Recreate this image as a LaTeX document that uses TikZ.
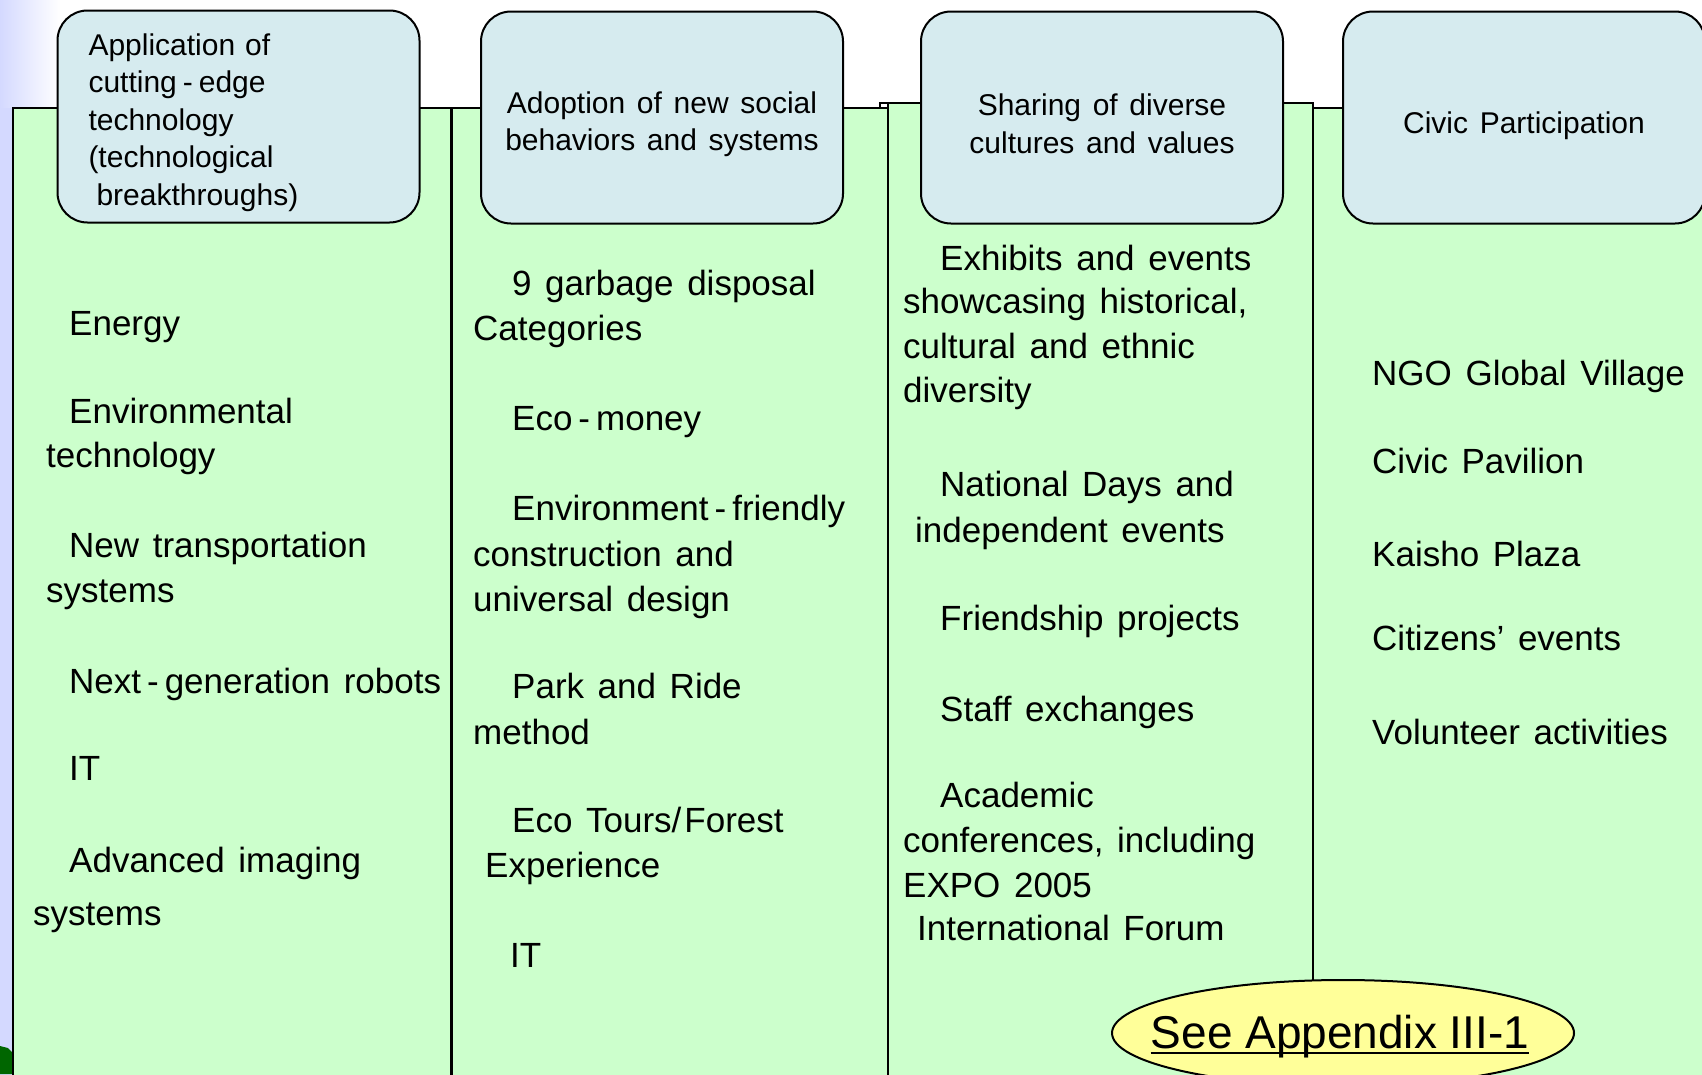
\documentclass[tikz,border=0pt]{standalone}
\usepackage{fontspec}
\setmainfont[WordSpace=1.4]{Liberation Sans}
\newfontfamily\notefont{Liberation Sans}
\usetikzlibrary{shapes.geometric, positioning}
\definecolor{PanelGreen}{HTML}{CCFFCC}
\definecolor{HeadBlue}{HTML}{D6EBEF}
\definecolor{NoteYellow}{HTML}{FFFF99}
\definecolor{SlideLilac}{HTML}{D4D9FF}
\newcommand{\hy}{\kern6pt-\kern6pt}

\tikzset{
  panel/.style={draw=black, fill=PanelGreen, line width=2pt},
  head/.style={draw=black, fill=HeadBlue, line width=2pt, rounded corners=30pt,
    minimum width=362pt, minimum height=212pt, inner sep=0pt},
  headtext/.style={font=\fontsize{30}{37.5}\selectfont, inner sep=0pt},
  item/.style={font=\fontsize{35}{44}\selectfont, anchor=base west, inner sep=0pt},
  oval/.style={draw=black, fill=NoteYellow, ellipse, line width=2pt,
    minimum width=462pt, minimum height=106pt, inner sep=0pt}
}

\begin{document}
\begin{tikzpicture}[x=1pt, y=-1pt]
    \useasboundingbox (0,0) rectangle (1702,1074);
    \clip (0,0) rectangle (1702,1074);

    % Slide background
    \fill[white] (0,0) rectangle (1702,1074);
    \shade[left color=SlideLilac, right color=white] (0,0) rectangle (60,1074);
    \fill[SlideLilac] (0,108) rectangle (14,1074);
    \fill[green!40!black] (0,1046) -- (8,1048) -- (14,1054) -- (14,1074) -- (0,1074) -- cycle;

    % Columns
    \draw[panel] (13,108) rectangle (451,1090);
    \draw[panel] (452,108) rectangle (888,1090);
    \draw[panel] (888,103) rectangle (1313,1090);
    \draw[line width=2pt] (880,108) |- (888,103);
    \draw[panel] (1313,108) rectangle (1730,1090);

    % Column heads
    \node[head] (h1) at (238.5,116.5) {};
    \node[head] (h2) at (662,117.5) {};
    \node[head] (h3) at (1102,117.5) {};
    \node[head] (h4) at (1524,117.5) {};
    \node[headtext, text width=300pt, align=left] (t1) at (238.5,122.5)
        {Application of\\cutting\hy edge\\technology\\(technological\\\hspace*{8pt}breakthroughs)};
    \node[headtext, align=center] (t2) at (662,124) {Adoption of new social\\behaviors and systems};
    \node[headtext, align=center] (t3) at (1102,124) {Sharing of diverse\\cultures and values};
    \node[headtext] (t4) at (1524,125.4) {Civic Participation};

    % Technology
    \node[item] (c1a) at (69,335) {Energy};
    \node[item] (c1b) at (69,423) {Environmental};
    \node[item] (c1c) at (46,467) {technology};
    \node[item] (c1d) at (69,557) {New transportation};
    \node[item] (c1e) at (46,602) {systems};
    \node[item] (c1f) at (69,693) {Next\hy generation robots};
    \node[item] (c1g) at (69,780) {IT};
    \node[item] (c1h) at (69,872) {Advanced imaging};
    \node[item] (c1i) at (33,925) {systems};

    % Social behaviors
    \node[item] (c2a) at (512,295) {9 garbage disposal};
    \node[item] (c2b) at (473,340) {Categories};
    \node[item] (c2c) at (512,430) {Eco\hy money};
    \node[item] (c2d) at (512,520) {Environment\hy friendly};
    \node[item] (c2e) at (473,566) {construction and};
    \node[item] (c2f) at (473,611) {universal design};
    \node[item] (c2g) at (512,698) {Park and Ride};
    \node[item] (c2h) at (473,744) {method};
    \node[item] (c2i) at (512,832) {Eco Tours/\kern3pt Forest};
    \node[item] (c2j) at (485,877) {Experience};
    \node[item] (c2k) at (510,967) {IT};

    % Cultures
    \node[item] (c3a) at (940,270) {Exhibits and events};
    \node[item] (c3b) at (903,313) {showcasing historical,};
    \node[item] (c3c) at (903,358) {cultural and ethnic};
    \node[item] (c3d) at (903,402) {diversity};
    \node[item] (c3e) at (940,496) {National Days and};
    \node[item] (c3f) at (915,542) {independent events};
    \node[item] (c3g) at (940,630) {Friendship projects};
    \node[item] (c3h) at (940,721) {Staff exchanges};
    \node[item] (c3i) at (940,807) {Academic};
    \node[item] (c3j) at (903,852) {conferences, including};
    \node[item] (c3k) at (903,897) {EXPO 2005};
    \node[item] (c3l) at (917,940) {International Forum};

    % Participation
    \node[item] (c4a) at (1372,385) {NGO Global Village};
    \node[item] (c4b) at (1372,473) {Civic Pavilion};
    \node[item] (c4c) at (1372,566) {Kaisho Plaza};
    \node[item] (c4d) at (1372,650) {Citizens’ events};
    \node[item] (c4e) at (1372,744) {Volunteer activities};

    % Appendix note
    \node[oval] (app) at (1343,1033) {};
    \node[font=\notefont\fontsize{46}{50}\selectfont, anchor=base, inner sep=0pt] (appt) at (1340,1048)
        {See Appendix III-1};
    \draw[line width=2pt] ([yshift=-5pt]appt.base west) -- ([yshift=-5pt]appt.base east);
\end{tikzpicture}
\end{document}
